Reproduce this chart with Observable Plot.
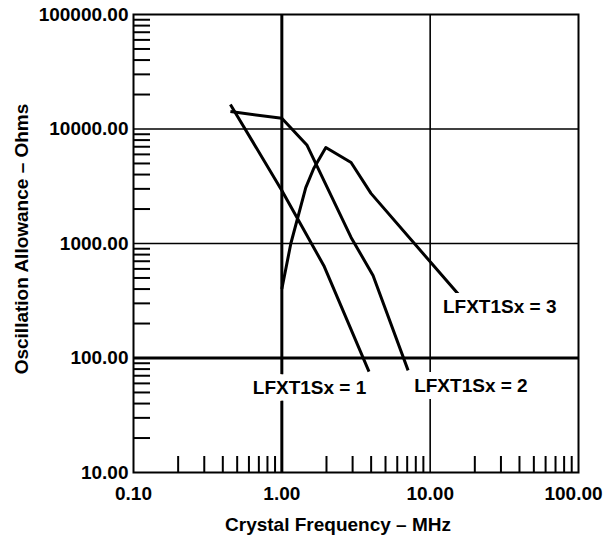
<!DOCTYPE html>
<html>
<head>
<meta charset="utf-8">
<script src="https://cdn.jsdelivr.net/npm/d3@7"></script>
<script src="https://cdn.jsdelivr.net/npm/@observablehq/plot@0.6"></script>
<style>
  html, body { margin: 0; padding: 0; background: #fff; }
</style>
</head>
<body>
<div id="chart"></div>
<script>
// Series (Crystal Frequency MHz -> Oscillation Allowance Ohms)
const freq1 = [0.45, 1.0, 1.92, 3.87];
const allow1 = [16400, 2900, 640, 76];

const freq2 = [0.45, 1.0, 1.48, 2.93, 4.12, 7.1];
const allow2 = [14200, 12400, 7200, 1130, 525, 78];

const freq3 = [1.0, 1.15, 1.45, 1.64, 1.98, 2.93, 3.99, 16.2];
const allow3 = [400, 1000, 3080, 4520, 6900, 5100, 2740, 337];

const seriesNames = ["LFXT1Sx = 1", "LFXT1Sx = 2", "LFXT1Sx = 3"];
const labelFreq = [0.637, 7.8, 12.2];
const labelAllow = [54.7, 57.5, 279];

// Axis ticks
const xTicks = [0.1, 1, 10, 100];
const yTicks = [10, 100, 1000, 10000, 100000];
const minorX = [0.2, 0.3, 0.4, 0.5, 0.6, 0.7, 0.8, 0.9,
                2, 3, 4, 5, 6, 7, 8, 9,
                20, 30, 40, 50, 60, 70, 80, 90];
const minorY = [20, 30, 40, 50, 60, 70, 80, 90,
                200, 300, 400, 500, 600, 700, 800, 900,
                2000, 3000, 4000, 5000, 6000, 7000, 8000, 9000,
                20000, 30000, 40000, 50000, 60000, 70000, 80000, 90000];

const xTitle = "Crystal Frequency – MHz";
const yTitle = "Oscillation Allowance – Ohms";

const rows = [
  ...freq1.map((f, i) => ({s: seriesNames[0], x: f, y: allow1[i]})),
  ...freq2.map((f, i) => ({s: seriesNames[1], x: f, y: allow2[i]})),
  ...freq3.map((f, i) => ({s: seriesNames[2], x: f, y: allow3[i]}))
];
const labels = seriesNames.map((t, i) => ({t, x: labelFreq[i], y: labelAllow[i]}));

const fmt = d3.format(".2f");
const W = 608, H = 537, ML = 133, MR = 30, MT = 14, MB = 65;
const plotW = W - ML - MR, plotH = H - MT - MB;
const txt = {fill: "#000", fontSize: 19, fontWeight: "bold"};

const chart = Plot.plot({
  width: W,
  height: H,
  marginLeft: ML,
  marginRight: MR,
  marginTop: MT,
  marginBottom: MB,
  style: {fontFamily: "'Liberation Sans', Arial, sans-serif", fontSize: "19px", fontWeight: "bold", color: "#000", background: "#fff"},
  x: {type: "log", domain: [0.1, 100], axis: null},
  y: {type: "log", domain: [10, 100000], axis: null},
  marks: [
    // minor ticks
    Plot.ruleX(minorX, {x: d => d, insetTop: plotH - 16, stroke: "#000", strokeWidth: 2}),
    Plot.ruleY(minorY, {y: d => d, insetRight: plotW - 17, stroke: "#000", strokeWidth: 2}),
    // grid lines
    Plot.ruleY([10000, 1000], {stroke: "#000", strokeWidth: 1.5}),
    Plot.ruleY([100], {stroke: "#000", strokeWidth: 3}),
    Plot.ruleX([10], {stroke: "#000", strokeWidth: 1.6}),
    Plot.ruleX([1], {stroke: "#000", strokeWidth: 3}),
    Plot.frame({stroke: "#000", strokeWidth: 2}),
    // curves
    Plot.line(rows, {x: "x", y: "y", z: "s", stroke: "#000", strokeWidth: 3, strokeLinejoin: "round", strokeLinecap: "butt"}),
    // curve labels
    Plot.text(labels, {x: "x", y: "y", text: "t", textAnchor: "start", lineAnchor: "middle",
      stroke: "#fff", strokeWidth: 14, paintOrder: "stroke", ...txt}),
    // tick labels
    Plot.text(xTicks.slice(0, 3), {x: d => d, text: d => fmt(d), frameAnchor: "bottom", dy: 27, lineAnchor: "bottom", textAnchor: "middle", ...txt}),
    Plot.text(xTicks.slice(3), {x: d => d, text: d => fmt(d), frameAnchor: "bottom", dx: -5, dy: 27, lineAnchor: "bottom", textAnchor: "middle", ...txt}),
    Plot.text(yTicks, {y: d => d, text: d => fmt(d), frameAnchor: "left", dx: -5, textAnchor: "end", lineAnchor: "middle", ...txt}),
    // axis titles
    Plot.text([xTitle], {text: d => d, frameAnchor: "bottom", dx: -18, dy: 58, lineAnchor: "bottom", textAnchor: "middle", ...txt}),
    Plot.text([yTitle], {text: d => d, frameAnchor: "left", dx: -106, dy: -4.5, rotate: -90, lineAnchor: "bottom", textAnchor: "middle", ...txt})
  ]
});
document.getElementById("chart").appendChild(chart);
</script>
</body>
</html>
